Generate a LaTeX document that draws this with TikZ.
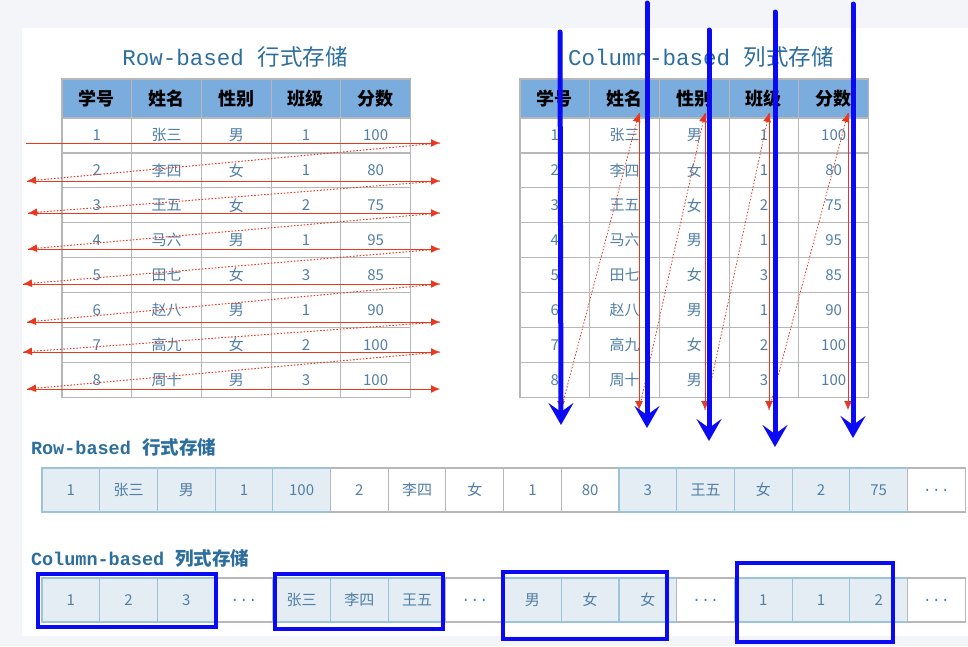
\documentclass[tikz,border=0pt]{standalone}
\usepackage{fontspec}
\setmainfont{Liberation Mono}
\newfontfamily\cjk{Noto Sans CJK SC}
\usetikzlibrary{arrows.meta}
\definecolor{pagebg}{HTML}{F3F5F8}
\definecolor{titleblue}{HTML}{2C6E9E}
\definecolor{headblue}{HTML}{7BACDE}
\definecolor{gridgray}{HTML}{B7B7B7}
\definecolor{celltext}{HTML}{527FA6}
\definecolor{arrowred}{HTML}{E8391F}
\definecolor{markblue}{HTML}{0A0AF5}
\definecolor{stripfill}{HTML}{E3EDF3}
\definecolor{stripline}{HTML}{9CC4D9}
\begin{document}
\begin{tikzpicture}[x=1pt,y=-1pt]
\tikzstyle{every node}=[inner sep=0pt,outer sep=0pt]
\tikzstyle{title}=[text=titleblue,font=\fontsize{22.5}{26}\selectfont]
\tikzstyle{striptitle}=[text=titleblue,anchor=west,font=\bfseries\fontsize{18.5}{22}\selectfont]
\tikzstyle{headcell}=[draw=gridgray,line width=1.2pt,fill=headblue,minimum width=69.7pt,minimum height=39pt,font=\cjk\bfseries\fontsize{18}{20}\selectfont]
\tikzstyle{bodycell}=[draw=gridgray,line width=1.2pt,fill=white,minimum width=69.7pt,minimum height=34.9pt,text=celltext,font=\cjk\fontsize{15}{18}\selectfont]
\tikzstyle{fcell}=[draw=stripline,line width=1.1pt,fill=stripfill,minimum width=57.7pt,minimum height=44pt,text=celltext,font=\cjk\fontsize{15}{18}\selectfont]
\tikzstyle{wcell}=[fcell,draw=gridgray,fill=white]
\tikzstyle{rowline}=[arrowred,line width=1pt,-{Latex[length=9pt,width=8pt]}]
\tikzstyle{rowdots}=[rowline,dash pattern=on 1.5pt off 1.8pt]
\tikzstyle{bluemark}=[markblue,line width=5pt,line cap=round,-{Stealth[length=22pt,width=25pt,inset=9pt]}]
\tikzstyle{bluebox}=[markblue,line width=4.5pt]

\useasboundingbox (0,0) rectangle (968,646);
\fill[pagebg] (0,0) rectangle (968,646);
\fill[white] (22,28) rectangle (968,636);

\node[title] (rowtitle) at (235,57) {Row-based {\cjk 行式存储}};
\node[title] (coltitle) at (701,57) {Column-based {\cjk 列式存储}};

\foreach \c/\h in {1/学号,2/姓名,3/性别,4/班级,5/分数}{
  \node[headcell] (L-0-\c) at (62+69.7*\c-34.85,98.5) {\h};
  \node[headcell] (R-0-\c) at (520+69.7*\c-34.85,98.5) {\h};
}
\foreach \r/\na/\sx/\cl/\sc in {1/张三/男/1/100,2/李四/女/1/80,3/王五/女/2/75,4/马六/男/1/95,5/田七/女/3/85,6/赵八/男/1/90,7/高九/女/2/100,8/周十/男/3/100}{
  \foreach \t/\x in {L/62,R/520}{
    \foreach \c/\v in {1/\r,2/\na,3/\sx,4/\cl,5/\sc}
      \node[bodycell] (\t-\r-\c) at (\x+69.7*\c-34.85,118+34.9*\r-17.45) {\v};
  }
}

\foreach \r/\y/\xl in {1/143/26,2/181/27,3/213/28,4/249/28,5/284/23,6/322/27,7/352/23,8/389/27}{
  \coordinate (rl\r) at (\xl,\y);
  \coordinate (rr\r) at (440,\y);
  \draw[rowline] (rl\r) -- (rr\r);
}
\foreach \r [count=\s from 2] in {1,...,7}
  \draw[rowdots] (rr\r) -- (rl\s);

\foreach \c/\x in {1/561,2/639,3/705,4/769,5/848}{
  \coordinate (ct\c) at (\x,113);
  \coordinate (cb\c) at (\x,410);
  \draw[rowline,line width=0.8pt] (ct\c) -- (cb\c);
}
\foreach \c [count=\d from 2] in {1,...,4}
  \draw[rowdots,line width=0.8pt] (cb\c) -- (ct\d);

\foreach \m/\x/\ya/\xb/\yb in {1/560/32/561/425,2/647/3/647/428,3/709/30/709/441,4/775/12/775/447,5/853/4/853/438}{
  \coordinate (mt\m) at (\x,\ya);
  \coordinate (mb\m) at (\xb,\yb);
  \draw[bluemark] (mt\m) -- (mb\m);
}

\node[striptitle] (rowlabel) at (31,447) {Row-based {\cjk 行式存储}};
\foreach \k/\v/\s in {1/1/fcell,2/张三/fcell,3/男/fcell,4/1/fcell,5/100/fcell,6/2/wcell,7/李四/wcell,8/女/wcell,9/1/wcell,10/80/wcell,11/3/fcell,12/王五/fcell,13/女/fcell,14/2/fcell,15/75/fcell,16/{\rmfamily...}/wcell}
  \node[\s] (rs\k) at (42+57.7*\k-28.85,490) {\v};

\node[striptitle] (collabel) at (31,558) {Column-based {\cjk 列式存储}};
\foreach \k/\v/\s in {1/1/fcell,2/2/fcell,3/3/fcell,4/{\rmfamily...}/wcell,5/张三/fcell,6/李四/fcell,7/王五/fcell,8/{\rmfamily...}/wcell,9/男/fcell,10/女/fcell,11/女/fcell,12/{\rmfamily...}/wcell,13/1/fcell,14/1/fcell,15/2/fcell,16/{\rmfamily...}/wcell}
  \node[\s] (cs\k) at (42+57.7*\k-28.85,600) {\v};

\draw[bluebox] (38,574) rectangle (216,627);
\draw[bluebox] (275,574) rectangle (443,629);
\draw[bluebox] (503,572) rectangle (667,639);
\draw[bluebox] (737,563) rectangle (893,642);
\end{tikzpicture}
\end{document}
